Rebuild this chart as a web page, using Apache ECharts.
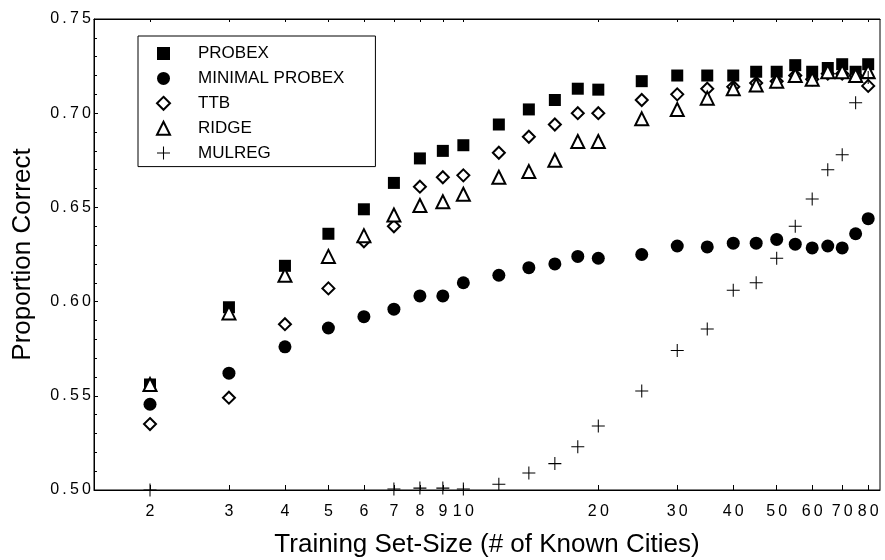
<!DOCTYPE html>
<html>
<head>
<meta charset="utf-8">
<script src="https://cdn.jsdelivr.net/npm/echarts@6/dist/echarts.min.js"></script>
<style>
  html, body { margin: 0; padding: 0; background: #fff; }
  #chart { width: 885px; height: 560px; }
</style>
</head>
<body>
<div id="chart"></div>
<script>
// training set sizes (x, log axis)
const sizes = [2, 3, 4, 5, 6, 7, 8, 9, 10, 12, 14, 16, 18, 20, 25, 30, 35, 40, 45, 50, 55, 60, 65, 70, 75, 80];
const xTicks = [2, 3, 4, 5, 6, 7, 8, 9, 10, 20, 30, 40, 50, 60, 70, 80];

// proportion correct per model
const probex = [0.556, 0.597, 0.619, 0.636, 0.649, 0.663, 0.676, 0.680, 0.683, 0.694, 0.702, 0.707, 0.713, 0.7125,
  0.717, 0.720, 0.720, 0.720, 0.722, 0.722, 0.7255, 0.722, 0.724, 0.726, 0.722, 0.726];
const minimalProbex = [0.5455, 0.562, 0.576, 0.586, 0.592, 0.596, 0.603, 0.603, 0.610, 0.614, 0.618, 0.620, 0.624, 0.623,
  0.625, 0.6295, 0.629, 0.631, 0.631, 0.633, 0.6305, 0.6285, 0.6295, 0.6285, 0.636, 0.644];
const ttb = [0.535, 0.549, 0.588, 0.607, 0.632, 0.640, 0.661, 0.666, 0.667, 0.679, 0.6875, 0.694, 0.700, 0.700,
  0.707, 0.710, 0.713, 0.714, 0.716, 0.717, 0.720, 0.718, 0.721, 0.721, 0.720, 0.7145];
const ridge = [0.556, 0.594, 0.614, 0.624, 0.635, 0.646, 0.651, 0.653, 0.657, 0.666, 0.669, 0.675, 0.685, 0.685,
  0.697, 0.702, 0.708, 0.713, 0.715, 0.717, 0.720, 0.718, 0.722, 0.722, 0.720, 0.722];
// 3..6 fall below the axis, not drawn
const mulreg = [0.500, null, null, null, null, 0.5005, 0.501, 0.501, 0.5005, 0.503, 0.509, 0.514, 0.523, 0.534,
  0.5525, 0.574, 0.5855, 0.606, 0.610, 0.623, 0.640, 0.6545, 0.670, 0.678, 0.7055, 0.719];

const FONT = "'Liberation Sans', Arial, sans-serif";
const spaced = s => String(s).split('').join('\u2009');
const plus = 'path://M-0.08,-1L0.08,-1L0.08,-0.08L1,-0.08L1,0.08L0.08,0.08L0.08,1L-0.08,1L-0.08,0.08L-1,0.08L-1,-0.08L-0.08,-0.08Z';

function pts(vals) {
  return sizes.map((x, i) => [x, vals[i]]).filter(p => p[1] != null);
}

const chart = echarts.init(document.getElementById('chart'), null, { renderer: 'canvas' });
chart.setOption({
  animation: false,
  backgroundColor: '#fff',
  textStyle: { fontFamily: FONT, color: '#000' },
  grid: {
    left: 94, right: 5, top: 19, bottom: 70,
    containLabel: false, outerBoundsMode: 'none',
    show: true, borderColor: '#000', borderWidth: 1, backgroundColor: 'transparent'
  },
  legend: {
    orient: 'vertical',
    left: 138, top: 36,
    padding: [9, 31, 5, 18],
    itemWidth: 13, itemHeight: 13, itemGap: 7.9,
    borderColor: '#000', borderWidth: 1, borderRadius: 0,
    backgroundColor: '#fff',
    selectedMode: false,
    textStyle: { fontFamily: FONT, fontSize: 17, color: '#000', lineHeight: 14, padding: [0, 0, 0, 23] },
    data: ['PROBEX', 'MINIMAL PROBEX', 'TTB', 'RIDGE', 'MULREG']
  },
  xAxis: [
    {
      type: 'log', logBase: 10, min: 1.5, max: 85,
      name: 'Training Set-Size (# of Known Cities)',
      nameLocation: 'middle', nameGap: 42,
      nameTextStyle: { fontFamily: FONT, fontSize: 26, color: '#000' },
      axisLine: { show: true, lineStyle: { color: '#000', width: 1 } },
      axisTick: { show: true, inside: true, length: 5, customValues: xTicks, lineStyle: { color: '#000' } },
      axisLabel: {
        show: true, margin: 14, fontSize: 16, color: '#000', fontFamily: FONT,
        customValues: xTicks,
        formatter: v => spaced(Math.round(v))
      },
      splitLine: { show: false },
      minorTick: { show: false }
    },
    {
      type: 'log', logBase: 10, min: 1.5, max: 85, position: 'top',
      axisLine: { show: true, lineStyle: { color: '#000', width: 1 } },
      axisTick: { show: true, inside: true, length: 3, customValues: xTicks, lineStyle: { color: '#000' } },
      axisLabel: { show: false },
      splitLine: { show: false }
    }
  ],
  yAxis: {
    type: 'value', min: 0.5, max: 0.75, interval: 0.05,
    name: 'Proportion Correct',
    nameLocation: 'middle', nameGap: 58,
    nameTextStyle: { fontFamily: FONT, fontSize: 26, color: '#000' },
    axisLine: { show: true, lineStyle: { color: '#000', width: 1 } },
    axisTick: { show: true, inside: true, length: 4, lineStyle: { color: '#000' } },
    minorTick: { show: true, splitNumber: 5, length: 3, lineStyle: { color: '#000' } },
    axisLabel: { margin: 3, fontSize: 16, color: '#000', fontFamily: FONT, formatter: v => spaced(v.toFixed(2)) },
    splitLine: { show: false }
  },
  series: [
    {
      name: 'PROBEX', type: 'scatter', symbol: 'rect', symbolSize: 12,
      itemStyle: { color: '#000', opacity: 1 },
      data: pts(probex)
    },
    {
      name: 'MINIMAL PROBEX', type: 'scatter', symbol: 'circle', symbolSize: 13,
      itemStyle: { color: '#000', opacity: 1 },
      data: pts(minimalProbex)
    },
    {
      name: 'TTB', type: 'scatter', symbol: 'diamond', symbolSize: 12,
      itemStyle: { color: '#fff', borderColor: '#000', borderWidth: 2, opacity: 1 },
      data: pts(ttb)
    },
    {
      name: 'RIDGE', type: 'scatter', symbol: 'triangle', symbolSize: 13,
      itemStyle: { color: '#fff', borderColor: '#000', borderWidth: 2, opacity: 1 },
      data: pts(ridge)
    },
    {
      name: 'MULREG', type: 'scatter', symbol: plus, symbolSize: 13,
      itemStyle: { color: '#000', opacity: 1 },
      data: pts(mulreg)
    }
  ]
});
</script>
</body>
</html>
